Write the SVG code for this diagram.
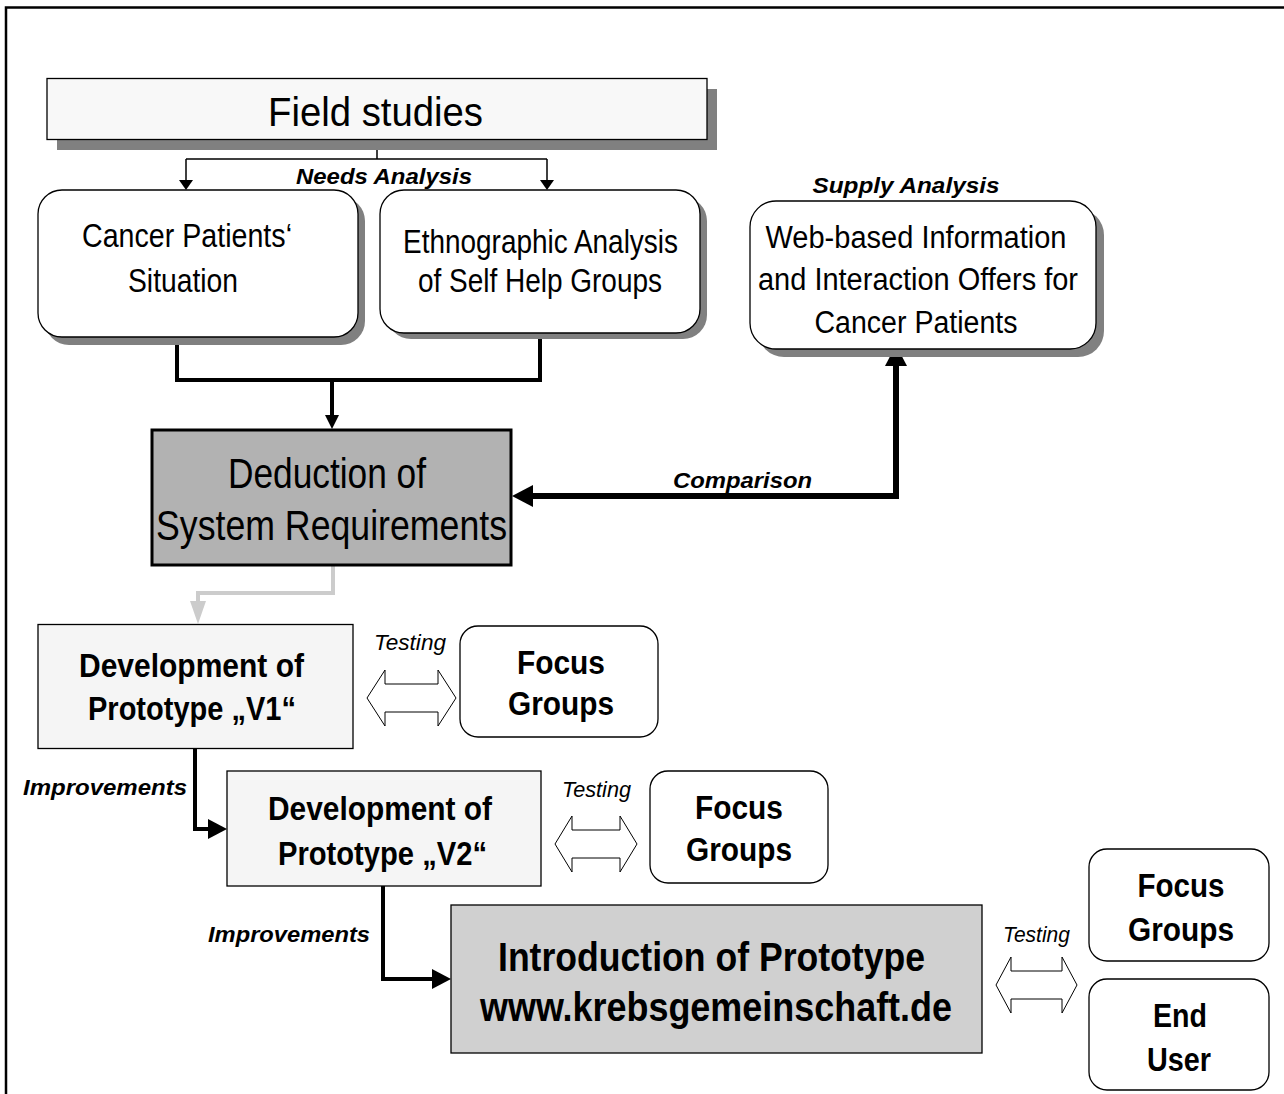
<svg xmlns="http://www.w3.org/2000/svg" width="1284" height="1094" viewBox="0 0 1284 1094">
<defs>
<style>
text{font-family:"Liberation Sans Narrow","Liberation Sans","Arial Narrow",sans-serif;text-anchor:middle;fill:#000}
.b{font-weight:bold}
.lbl{font-weight:bold;font-style:italic;font-size:22px}
.tst{font-style:italic;font-size:22px}
.box{stroke:#000;stroke-width:1.3}
.shadow{fill:#808080}
.ln{fill:none;stroke:#000}
.dbl{fill:#fff;stroke:#000;stroke-width:1}
</style>
<marker id="hThin" markerUnits="userSpaceOnUse" markerWidth="10" markerHeight="14" refX="0" refY="7" orient="auto"><path d="M0,0 L10,7 L0,14 Z" fill="#000"/></marker>
<marker id="hMid" markerUnits="userSpaceOnUse" markerWidth="14" markerHeight="14" refX="0" refY="7" orient="auto"><path d="M0,0 L14,7 L0,14 Z" fill="#000"/></marker>
<marker id="hBig" markerUnits="userSpaceOnUse" markerWidth="21" markerHeight="22" refX="0" refY="11" orient="auto-start-reverse"><path d="M0,0 L21,11 L0,22 Z" fill="#000"/></marker>
<marker id="hImp" markerUnits="userSpaceOnUse" markerWidth="19" markerHeight="20" refX="0" refY="10" orient="auto"><path d="M0,0 L19,10 L0,20 Z" fill="#000"/></marker>
<marker id="hGray" markerUnits="userSpaceOnUse" markerWidth="23" markerHeight="16" refX="0" refY="8" orient="auto"><path d="M0,0 L23,8 L0,16 Z" fill="#cccccc"/></marker>
</defs>
<rect width="1284" height="1094" fill="#fff"/>
<path d="M6,1094 V7.5 H1284" fill="none" stroke="#000" stroke-width="2.5"/>

<g id="connectors">
<path class="ln" stroke-width="1.5" d="M377,139 V159 M186,159 H547"/>
<path class="ln" stroke-width="1.5" d="M186,159 V180" marker-end="url(#hThin)"/>
<path class="ln" stroke-width="1.5" d="M547,159 V180" marker-end="url(#hThin)"/>
<path class="ln" stroke-width="4" d="M177,337 V380 H540 V337"/>
<path class="ln" stroke-width="4" d="M332,380 V415" marker-end="url(#hMid)"/>
<path class="ln" stroke-width="6" d="M896,366 V496 H533" marker-start="url(#hBig)" marker-end="url(#hBig)"/>
<path fill="none" stroke="#cccccc" stroke-width="4" d="M333,566 V593 H198 V601" marker-end="url(#hGray)"/>
<path class="ln" stroke-width="4" d="M195,749 V829 H208" marker-end="url(#hImp)"/>
<path class="ln" stroke-width="4" d="M383,886 V979 H432" marker-end="url(#hImp)"/>
<path class="dbl" d="M367,698 L385,670 V684 H438 V670 L456,698 L438,726 V712 H385 V726 Z"/>
<path class="dbl" d="M555,844 L572,816 V830 H620 V816 L637,844 L620,872 V858 H572 V872 Z"/>
<path class="dbl" d="M996,985 L1011,957 V971 H1062 V957 L1077,985 L1062,1013 V999 H1011 V1013 Z"/>
<text class="lbl" x="384" y="184" textLength="176" lengthAdjust="spacingAndGlyphs">Needs Analysis</text>
<text class="lbl" x="906" y="193" textLength="187" lengthAdjust="spacingAndGlyphs">Supply Analysis</text>
<text class="lbl" x="742.5" y="488" textLength="139" lengthAdjust="spacingAndGlyphs">Comparison</text>
<text class="tst" x="410" y="650" textLength="72" lengthAdjust="spacingAndGlyphs">Testing</text>
<text class="tst" x="596.5" y="797" textLength="69" lengthAdjust="spacingAndGlyphs">Testing</text>
<text class="tst" x="1036.5" y="942" textLength="67" lengthAdjust="spacingAndGlyphs">Testing</text>
<text class="lbl" x="105" y="795" textLength="164" lengthAdjust="spacingAndGlyphs">Improvements</text>
<text class="lbl" x="289" y="942" textLength="162" lengthAdjust="spacingAndGlyphs">Improvements</text>
</g>

<g id="field-studies">
<rect class="shadow" x="57" y="89" width="660" height="61"/>
<rect class="box" x="47" y="78.5" width="660" height="61" fill="#f8f8f8"/>
<text x="375.5" y="126" font-size="40" textLength="215" lengthAdjust="spacingAndGlyphs">Field studies</text>
</g>

<g id="cancer-situation">
<rect class="shadow" x="45" y="197" width="320" height="148" rx="24"/>
<rect class="box" x="38" y="190" width="320" height="147" rx="24" fill="#fff"/>
<text x="187" y="247" font-size="33" textLength="210" lengthAdjust="spacingAndGlyphs">Cancer Patients‘</text>
<text x="183" y="292" font-size="33" textLength="110" lengthAdjust="spacingAndGlyphs">Situation</text>
</g>

<g id="ethnographic">
<rect class="shadow" x="387" y="197" width="320" height="142" rx="24"/>
<rect class="box" x="380" y="190" width="320" height="143" rx="24" fill="#fff"/>
<text x="540.5" y="253" font-size="33" textLength="275" lengthAdjust="spacingAndGlyphs">Ethnographic Analysis</text>
<text x="540" y="292" font-size="33" textLength="244" lengthAdjust="spacingAndGlyphs">of Self Help Groups</text>
</g>

<g id="web-offers">
<rect class="shadow" x="758" y="209" width="346" height="148" rx="26"/>
<rect class="box" x="750" y="201" width="346" height="148" rx="26" fill="#fff"/>
<text x="916" y="248" font-size="31" textLength="301" lengthAdjust="spacingAndGlyphs">Web-based Information</text>
<text x="918" y="290" font-size="31" textLength="320" lengthAdjust="spacingAndGlyphs">and Interaction Offers for</text>
<text x="916" y="333" font-size="31" textLength="203" lengthAdjust="spacingAndGlyphs">Cancer Patients</text>
</g>

<g id="deduction">
<rect x="152" y="430" width="359" height="135" fill="#b2b2b2" stroke="#000" stroke-width="3"/>
<text x="327" y="488" font-size="42" textLength="198" lengthAdjust="spacingAndGlyphs">Deduction of</text>
<text x="331.5" y="540" font-size="42" textLength="351" lengthAdjust="spacingAndGlyphs">System Requirements</text>
</g>

<g id="prototype-v1">
<rect class="box" x="38" y="624.5" width="315" height="124" fill="#f5f5f5"/>
<text class="b" x="191.5" y="677" font-size="33" textLength="225" lengthAdjust="spacingAndGlyphs">Development of</text>
<text class="b" x="192" y="720" font-size="33" textLength="208" lengthAdjust="spacingAndGlyphs">Prototype „V1“</text>
</g>

<g id="focus-groups-1">
<rect class="box" x="460" y="626" width="198" height="111" rx="18" fill="#fff"/>
<text class="b" x="561" y="674" font-size="33" textLength="88" lengthAdjust="spacingAndGlyphs">Focus</text>
<text class="b" x="561" y="715" font-size="33" textLength="106" lengthAdjust="spacingAndGlyphs">Groups</text>
</g>

<g id="prototype-v2">
<rect class="box" x="227" y="771" width="314" height="115" fill="#f5f5f5"/>
<text class="b" x="380" y="820" font-size="33" textLength="224" lengthAdjust="spacingAndGlyphs">Development of</text>
<text class="b" x="382.5" y="865" font-size="33" textLength="209" lengthAdjust="spacingAndGlyphs">Prototype „V2“</text>
</g>

<g id="focus-groups-2">
<rect class="box" x="650" y="771" width="178" height="112" rx="18" fill="#fff"/>
<text class="b" x="739" y="819" font-size="33" textLength="88" lengthAdjust="spacingAndGlyphs">Focus</text>
<text class="b" x="739" y="861" font-size="33" textLength="106" lengthAdjust="spacingAndGlyphs">Groups</text>
</g>

<g id="introduction">
<rect class="box" x="451" y="905" width="531" height="148" fill="#d0d0d0"/>
<text class="b" x="711.5" y="971" font-size="40" textLength="427" lengthAdjust="spacingAndGlyphs">Introduction of Prototype</text>
<text class="b" x="716" y="1021" font-size="40" textLength="472" lengthAdjust="spacingAndGlyphs">www.krebsgemeinschaft.de</text>
</g>

<g id="focus-groups-3">
<rect class="box" x="1089" y="849" width="180" height="112" rx="18" fill="#fff"/>
<text class="b" x="1181" y="897" font-size="33" textLength="87" lengthAdjust="spacingAndGlyphs">Focus</text>
<text class="b" x="1181" y="941" font-size="33" textLength="106" lengthAdjust="spacingAndGlyphs">Groups</text>
</g>

<g id="end-user">
<rect class="box" x="1089" y="979" width="180" height="111" rx="18" fill="#fff"/>
<text class="b" x="1180" y="1027" font-size="33" textLength="54" lengthAdjust="spacingAndGlyphs">End</text>
<text class="b" x="1179" y="1071" font-size="33" textLength="64" lengthAdjust="spacingAndGlyphs">User</text>
</g>
</svg>
